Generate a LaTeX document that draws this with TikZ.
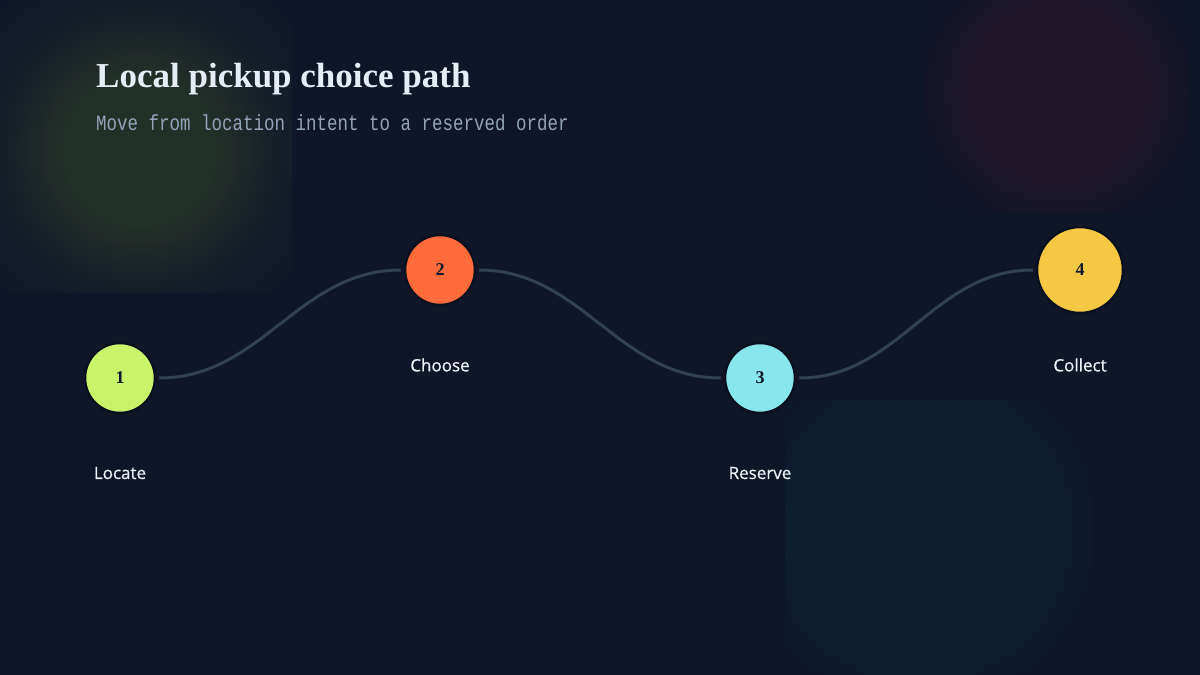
\documentclass[tikz,border=0pt]{standalone}
\usepackage{fontspec}
\setmainfont{Liberation Serif}
\newfontfamily\labelfont[FakeBold=0.6]{Open Sans}
\newfontfamily\monofont{Liberation Mono}
\usetikzlibrary{shapes.geometric}
\definecolor{bgc}{HTML}{0E1628}
\definecolor{glowgreen}{HTML}{3A4A37}
\definecolor{glowred}{HTML}{3A2535}
\definecolor{glowblue}{HTML}{24384D}
\definecolor{titlec}{HTML}{E6ECF5}
\definecolor{subc}{HTML}{94A3B8}
\definecolor{labelc}{HTML}{EEF2F7}
\definecolor{linkc}{HTML}{334155}
\definecolor{ringc}{HTML}{0A101D}
\definecolor{numc}{HTML}{111827}
\definecolor{c1}{HTML}{C8F46C}
\definecolor{c2}{HTML}{FF6B3A}
\definecolor{c3}{HTML}{88E6EE}
\definecolor{c4}{HTML}{F5C843}
\tikzset{
  stepnode/.style={circle, draw=ringc, line width=2.5pt, minimum size=70pt, inner sep=0pt,
    font=\fontsize{18}{18}\selectfont\bfseries, text=numc},
  steplabel/.style={font=\labelfont\fontsize{17}{17}\selectfont, text=labelc, anchor=center},
  link/.style={draw=linkc, line width=3pt, shorten <=3pt, shorten >=3pt},
  glowlayer/.style={opacity=0.04},
}
\begin{document}
\begin{tikzpicture}[x=1pt,y=-1pt]
\useasboundingbox (0,0) rectangle (1200,675);
\fill[bgc] (0,0) rectangle (1200,675);
% glows
\begin{scope}
\clip (0,0) rectangle (292,292);
\foreach \i in {1,...,39} {\fill[glowgreen, glowlayer] (140,150) circle ({112*sqrt(-ln(\i/40))});}
\end{scope}
\begin{scope}
\clip (925,0) rectangle (1188,212);
\foreach \i in {1,...,39} {\fill[glowred, glowlayer] (1058,92) circle ({96*sqrt(-ln(\i/40))});}
\end{scope}
\begin{scope}
\clip (785,400) rectangle (1090,675);
\foreach \i in {1,...,39} {\fill[glowblue, glowlayer] (920,530) circle ({108*sqrt(-ln(\i/40))});}
\end{scope}
% title
\node[anchor=base west, inner sep=0pt, text=titlec, font=\fontsize{35}{35}\selectfont\bfseries] (title) at (96,87) {Local pickup choice path};
\node[anchor=base west, inner sep=0pt, text=subc, font=\monofont\fontsize{17.5}{17.5}\selectfont] (subtitle) at (96,130) {\scalebox{1}[1.25]{Move from location intent to a reserved order}};
% nodes
\node[stepnode, fill=c1] (n1) at (120,378) {1};
\node[stepnode, fill=c2] (n2) at (440,270) {2};
\node[stepnode, fill=c3] (n3) at (760,378) {3};
\node[stepnode, fill=c4, minimum size=86pt] (n4) at (1080,270) {4};
% connectors
\draw[link] (n1) to[out=0,in=180] (n2);
\draw[link] (n2) to[out=0,in=180] (n3);
\draw[link] (n3) to[out=0,in=180] (n4);
% labels
\node[steplabel] (l1) at (120,473) {Locate};
\node[steplabel] (l2) at (440,365) {Choose};
\node[steplabel] (l3) at (760,473) {Reserve};
\node[steplabel] (l4) at (1080,365) {Collect};
\end{tikzpicture}
\end{document}
